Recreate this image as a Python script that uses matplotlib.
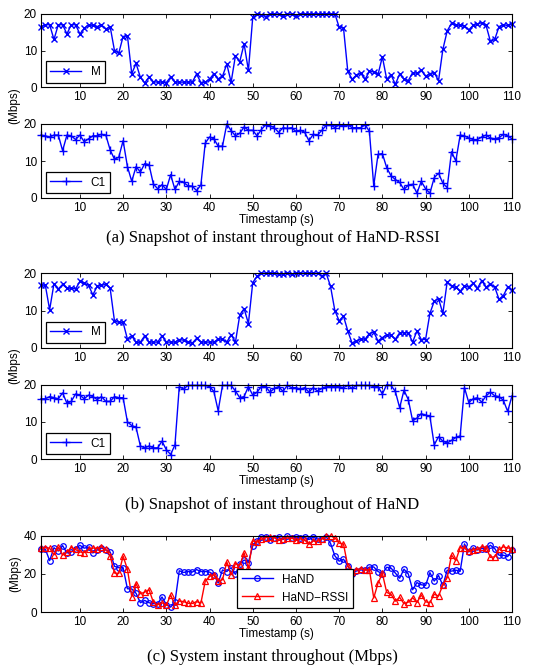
import numpy as np
import matplotlib
matplotlib.use('Agg')
import matplotlib.pyplot as plt

plt.rcParams['font.family'] = ['Liberation Sans', 'DejaVu Sans']

t = np.arange(1, 111)

# HaND-RSSI, link M and link C1 (Mbps)
rssi_m = [16.5, 17, 17, 13, 17, 17, 14.5, 17, 17, 14.5,
          16, 17, 16.8, 16.5, 17, 15.8, 16.5, 10, 9.3, 13.8,
          14, 3.7, 6.5, 2.7, 1.2, 2.8, 1.5, 1.4, 1.4, 1.3,
          2.8, 1.4, 1.4, 1.4, 1.4, 1.4, 3.6, 1.3, 1.4, 2.2,
          3.7, 2.3, 3.0, 6.3, 1.4, 8.6, 7.0, 11.8, 4.6, 19.0,
          19.8, 19.7, 19.2, 20, 20, 19.8, 19.5, 20, 19.8, 19.5,
          20, 20, 20, 20, 20, 20, 20, 20, 20, 16.3,
          16.2, 4.3, 2.2, 3.3, 3.8, 2.2, 4.3, 4.2, 3.5, 8.3,
          2.2, 3.4, 0.8, 3.6, 2.2, 1.8, 4.0, 3.8, 4.6, 3.0,
          3.7, 4.0, 1.8, 10.3, 15.3, 17.4, 17, 16.8, 16.7, 15.6,
          16.8, 17.1, 17.6, 16.8, 12.5, 13, 16.5, 17, 16.8, 17.3]
rssi_c1 = [17, 16.8, 16.5, 17, 17, 12.8, 17, 16.8, 15.8, 17,
           15.2, 16, 16.8, 16.8, 17.2, 17, 13, 10.5, 11, 15.5,
           8.5, 4.5, 8.5, 7, 9.3, 9, 3.8, 2.5, 3.6, 2.3,
           6.3, 2.3, 4.5, 4.2, 3.3, 3.2, 2.0, 3.5, 14.8, 16.5,
           16, 14, 14, 20, 18.2, 16.8, 17.5, 19.2, 18.3, 18.3,
           16.8, 18.5, 19.8, 19.5, 19, 17.7, 19, 18.8, 19, 18,
           18.3, 17.8, 15.5, 17.2, 17, 18.3, 19.6, 19.8, 19, 19.8,
           19.5, 19.8, 19, 19, 19, 19.8, 18, 3.3, 11.8, 12,
           8.2, 6, 5, 4.2, 2.3, 3.5, 3.7, 1.3, 4.5, 2.5,
           1.3, 5.5, 6.7, 4, 2.8, 12.5, 10, 17, 16.8, 16.2,
           15.8, 15.8, 16.5, 17, 16.2, 16, 16.3, 17.2, 16.8, 16]

# HaND, link M and link C1 (Mbps)
hand_m = [16.8, 16.8, 10.2, 17.2, 15.8, 17, 16, 16, 15.8, 17.8,
          17.3, 16.8, 14.2, 16.5, 16.8, 17, 16, 7.2, 6.8, 6.8,
          2.3, 3.2, 1.4, 1.5, 3.2, 1.5, 1.5, 1.5, 3.2, 1.5,
          1.5, 1.5, 2.2, 2, 1.5, 1.2, 2.5, 1.5, 1.5, 1.5,
          1.5, 2.3, 2.3, 1.5, 3.5, 1.5, 8.8, 10.5, 6.5, 17.5,
          19.2, 20, 20, 20, 20, 19.7, 19.8, 20, 19.7, 20,
          20, 20, 20, 20, 20, 19.3, 20, 16.5, 10, 7.2,
          8.5, 4.5, 1.2, 1.8, 2.3, 2.3, 3.8, 4.2, 1.8, 2.7,
          3.5, 3.3, 2.3, 4, 4, 4, 1.5, 4.5, 2.2, 2.2,
          9.2, 12.5, 13.2, 9.2, 17.7, 16.5, 16.2, 15.2, 16.5, 16.3,
          17.3, 16, 18, 16.3, 17, 16.3, 13, 14, 16.3, 15.5]
hand_c1 = [16.2, 16.2, 16.8, 16.5, 16.2, 17.8, 15, 15.5, 17.5, 17.2,
           16.2, 17.2, 16.8, 16, 16.8, 15.5, 15.5, 16.8, 16.5, 16.5,
           10, 9, 8.5, 3.5, 3, 3.5, 3, 3, 4.8, 2.5,
           1.2, 3.8, 19.5, 18.8, 19.8, 19.8, 19.8, 19.8, 19.8, 19.5,
           18.2, 13, 19.8, 19.8, 19.8, 18.3, 16.5, 16.8, 19.5, 17.2,
           18, 19.5, 19.5, 18, 19, 19.5, 18.2, 19.8, 19.2, 19.2,
           18.8, 19.2, 18, 19.2, 18.3, 19, 19.5, 19.5, 19.5, 19.5,
           19.2, 19.8, 19, 19.8, 19.8, 19.8, 19.8, 19.5, 19.5, 17.5,
           20, 19.8, 18.2, 13.8, 18.5, 16, 10.3, 11, 12.2, 11.8,
           11.5, 3.8, 6, 4.8, 4.3, 5, 5.8, 6.2, 19.2, 15.2,
           16.2, 16.5, 15.3, 17, 18, 17, 16.8, 15.8, 12.8, 17]

# System throughput (Mbps)
sys_hand = [33.0, 33.0, 27.0, 33.7, 32.0, 34.8, 31, 31.5, 33.3, 35,
            33.5, 34, 31, 32.5, 33.6, 32.5, 31.5, 24, 23.3, 23.3,
            12.3, 12.2, 9.9, 5, 6.2, 5, 4.5, 4.5, 8, 4,
            2.7, 5.3, 21.7, 20.8, 21.3, 21, 22.3, 21.3, 21.3, 21,
            19.7, 15.3, 22.1, 21.3, 23.3, 19.8, 25.3, 27.3, 26, 34.7,
            37.2, 39.5, 39.5, 38, 39, 39.2, 38, 39.8, 38.9, 39.2,
            38.8, 39.2, 38, 39.2, 38.3, 38.3, 39.5, 36, 29.5, 26.7,
            27.7, 24.3, 20.2, 21.6, 22.1, 22.1, 23.6, 23.7, 21.3, 20.2,
            23.5, 23.1, 20.5, 17.8, 22.5, 20, 11.8, 15.5, 14.4, 14,
            20.7, 16.3, 19.2, 14, 22, 21.5, 22, 21.4, 35.7, 31.5,
            33.5, 32.5, 33.3, 33.3, 35, 33.3, 29.8, 29.8, 29.1, 32.5]
sys_rssi = [33.5, 33.8, 33.5, 30, 34, 29.8, 31.5, 33.8, 32.8, 31.5,
            31.2, 33, 33.6, 33.3, 34.2, 32.8, 29.5, 20.5, 20.3, 29.3,
            22.5, 8.2, 15, 9.7, 10.5, 11.8, 5.3, 3.9, 5, 3.6,
            9.1, 3.7, 5.9, 5.6, 4.7, 4.6, 5.6, 4.8, 16.2, 18.7,
            19.7, 16.3, 17, 26.3, 19.6, 25.4, 24.5, 31, 22.9, 37.3,
            36.6, 38.2, 39, 39.5, 39, 37.5, 38.5, 38.8, 38.8, 37.5,
            38.3, 37.8, 35.5, 37.2, 37, 38.3, 39.6, 39.8, 39, 36.1,
            35.7, 24.1, 21.2, 22.3, 22.8, 22, 22.3, 7.5, 15.3, 20.3,
            10.4, 9.4, 5.8, 7.8, 4.5, 5.3, 7.7, 5.1, 9.1, 5.5,
            5, 9.5, 8.5, 14.3, 18.1, 29.9, 27, 33.8, 33.5, 31.8,
            32.6, 32.9, 34.1, 33.8, 28.7, 29, 32.8, 34.2, 33.6, 33.3]

xticks = [10, 20, 30, 40, 50, 60, 70, 80, 90, 100, 110]

fig = plt.figure(figsize=(5.45, 6.71), dpi=100)

W, H = 545.0, 671.0
left, width = 41 / W, 471 / W


def make_ax(top_px, bot_px):
    ax = fig.add_axes([left, 1 - bot_px / H, width, (bot_px - top_px) / H])
    ax.set_xlim(1, 110)
    ax.set_xticks(xticks)
    ax.tick_params(direction='in', top=True, right=True, labelsize=8.5,
                   length=3, width=0.6, pad=3)
    for s in ax.spines.values():
        s.set_linewidth(0.8)
    return ax


def style_legend(leg):
    fr = leg.get_frame()
    fr.set_edgecolor('black')
    fr.set_linewidth(0.9)
    fr.set_boxstyle('square', pad=0)
    leg.set_zorder(5)


# (a) HaND-RSSI
ax1 = make_ax(13.7, 87.3)
ax1.plot(t, rssi_m, color='blue', marker='x', ms=5, lw=1.0, mew=1.0, label='M', clip_on=False)
ax1.set_ylim(0, 20)
ax1.set_yticks([0, 10, 20])
style_legend(ax1.legend(loc='lower left', fontsize=8.5, handlelength=2.6,
                        borderaxespad=0.4, fancybox=False, framealpha=1))

ax2 = make_ax(124, 198)
ax2.plot(t, rssi_c1, color='blue', marker='+', ms=6, lw=1.0, mew=1.0, label='C1', clip_on=False)
ax2.set_ylim(0, 20)
ax2.set_yticks([0, 10, 20])
ax2.set_xlabel('Timestamp (s)', fontsize=8.5, labelpad=0)
style_legend(ax2.legend(loc='lower left', fontsize=8.5, handlelength=2.6,
                        borderaxespad=0.4, fancybox=False, framealpha=1))

fig.text(14 / W, 1 - 106 / H, '(Mbps)', rotation=90, ha='center', va='center', fontsize=8.5)
fig.text(0.5, 1 - 238 / H, '(a) Snapshot of instant throughout of HaND-RSSI',
         family='Liberation Serif', fontsize=12, ha='center', va='center')

# (b) HaND
ax3 = make_ax(273.3, 347.7)
ax3.plot(t, hand_m, color='blue', marker='x', ms=5, lw=1.0, mew=1.0, label='M', clip_on=False)
ax3.set_ylim(0, 20)
ax3.set_yticks([0, 10, 20])
style_legend(ax3.legend(loc='lower left', fontsize=8.5, handlelength=2.6,
                        borderaxespad=0.4, fancybox=False, framealpha=1))

ax4 = make_ax(384.7, 459)
ax4.plot(t, hand_c1, color='blue', marker='+', ms=6, lw=1.0, mew=1.0, label='C1', clip_on=False)
ax4.set_ylim(0, 20)
ax4.set_yticks([0, 10, 20])
ax4.set_xlabel('Timestamp (s)', fontsize=8.5, labelpad=0)
style_legend(ax4.legend(loc='lower left', fontsize=8.5, handlelength=2.6,
                        borderaxespad=0.4, fancybox=False, framealpha=1))

fig.text(14 / W, 1 - 366 / H, '(Mbps)', rotation=90, ha='center', va='center', fontsize=8.5)
fig.text(0.5, 1 - 505 / H, '(b) Snapshot of instant throughout of HaND',
         family='Liberation Serif', fontsize=12, ha='center', va='center')

# (c) system throughput
ax5 = make_ax(535.7, 612.3)
ax5.plot(t, sys_hand, color='blue', marker='o', ms=4, lw=1.0, mfc='none', mew=0.9,
         label='HaND', clip_on=False)
ax5.plot(t, sys_rssi, color='red', marker='^', ms=4.5, lw=1.0, mfc='none', mew=0.9,
         label='HaND\u2212RSSI', clip_on=False)
ax5.set_ylim(0, 40)
ax5.set_yticks([0, 20, 40])
ax5.set_xlabel('Timestamp (s)', fontsize=8.5, labelpad=0)
ax5.set_ylabel('(Mbps)', fontsize=8.5, labelpad=2)
style_legend(ax5.legend(loc='center', bbox_to_anchor=(0.54, 0.31), fontsize=8.5,
                        handlelength=2.6, fancybox=False, framealpha=1))

fig.text(0.5, 1 - 657 / H, '(c) System instant throughout (Mbps)',
         family='Liberation Serif', fontsize=12, ha='center', va='center')

fig.savefig('out.png', dpi=100)
